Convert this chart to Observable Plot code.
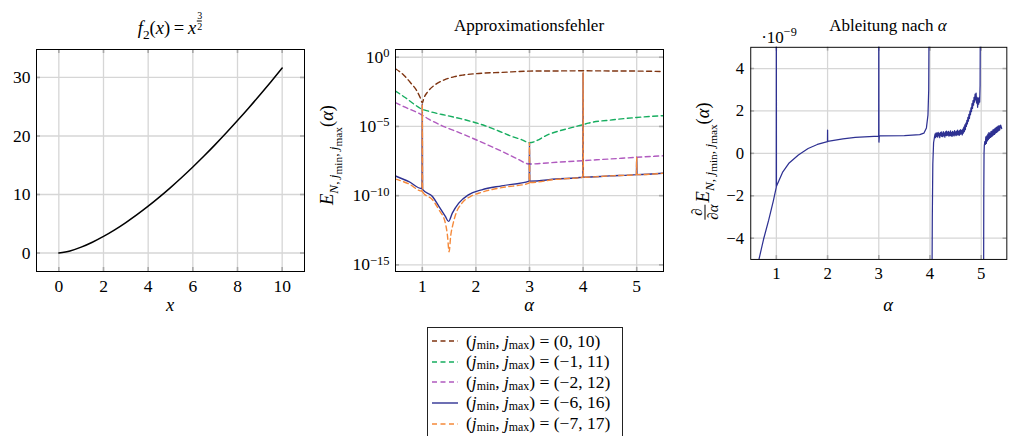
<!DOCTYPE html>
<html><head><meta charset="utf-8">
<script src="https://cdn.jsdelivr.net/npm/d3@7"></script>
<script src="https://cdn.jsdelivr.net/npm/@observablehq/plot@0.6"></script>
<style>
html,body{margin:0;padding:0;background:#fff;overflow:hidden;}
#c{position:relative;width:1014px;height:436px;overflow:hidden;font-family:'Liberation Serif','DejaVu Serif',serif;color:#000;}
.pl{position:absolute;top:0;}
.lbl{position:absolute;transform:translate(-50%,-50%);white-space:nowrap;font-size:17px;line-height:1;}
.big{font-size:18.5px;}
.rot{transform:translate(-50%,-50%) rotate(-90deg);}
sub,sup{font-size:72%;line-height:0;}
sub sub{font-size:85%;}
.frac{display:inline-block;vertical-align:middle;text-align:center;font-size:15px;line-height:1.0;margin-right:2px;}
.frac span{display:block;}
.frac .num{border-bottom:0.9px solid #000;padding:0 1px;}
.sfrac{display:inline-block;vertical-align:0.5em;font-size:10px;line-height:0.95;text-align:center;margin-left:1px;}
.sfrac span{display:block;}
.sfrac .num{border-bottom:0.6px solid #000;}
#legend{position:absolute;left:427px;top:327px;width:196px;height:118px;border:1px solid #222;background:#fff;box-sizing:border-box;padding-top:3px;}
.row{display:flex;align-items:center;height:20.6px;line-height:1;font-size:17.5px;white-space:nowrap;}
.row sub{font-size:68%;vertical-align:-0.2em;}
.row svg{margin-left:4px;margin-right:8px;flex:none;}
</style></head>
<body>
<div id="c">
  <div id="p1" class="pl" style="left:0px"></div>
  <div id="p2" class="pl" style="left:330px"></div>
  <div id="p3" class="pl" style="left:670px"></div>

  <div class="lbl big" style="left:170px;top:24px"><i>f</i><sub>2</sub>(<i>x</i>)&#8201;=&#8201;<i>x</i><span class="sfrac"><span class="num">3</span><span>2</span></span></div>
  <div class="lbl" style="left:529px;top:25px">Approximationsfehler</div>
  <div class="lbl" style="left:888px;top:25px">Ableitung nach <i>α</i></div>

  <div class="lbl big" style="left:170px;top:305px"><i>x</i></div>
  <div class="lbl big" style="left:529px;top:305px"><i>α</i></div>
  <div class="lbl big" style="left:888px;top:305px"><i>α</i></div>

  <div class="lbl big rot" style="left:328px;top:155px"><i>E</i><sub><i>N</i>, <i>j</i><sub>min</sub>, <i>j</i><sub>max</sub></sub>(<i>α</i>)</div>
  <div class="lbl big rot" style="left:705px;top:161px"><span class="frac"><span class="num"><i>∂</i></span><span><i>∂α</i></span></span><i>E</i><sub><i>N</i>, <i>j</i><sub>min</sub>, <i>j</i><sub>max</sub></sub>(<i>α</i>)</div>
  <div class="lbl" style="left:779px;top:37px">·10<sup>−9</sup></div>

  <div id="legend"></div>
</div>
<script>
// ---------- data ----------
// Panel 1: f2(x) = x^(3/2)
const f2X = [0,0.5,1,1.5,2,2.5,3,3.5,4,4.5,5,5.5,6,6.5,7,7.5,8,8.5,9,9.5,10];
const f2Y = [0,0.35,1,1.84,2.83,3.95,5.2,6.55,8,9.55,11.18,12.9,14.7,16.57,18.52,20.54,22.63,24.78,27,29.28,31.62];
const f2XTicks = [0,2,4,6,8,10];
const f2YTicks = [0,10,20,30];

// Panel 2: approximation error, pairs [alpha, log10(E)]
const errJ0_10 = [[0.5,-0.83],[0.66,-1.31],[0.78,-1.84],[0.9,-2.44],[0.97,-3.0],[1.0,-3.3],[1.03,-2.95],[1.1,-2.5],[1.25,-1.96],[1.4,-1.65],[1.6,-1.4],[1.75,-1.29],[2.05,-1.17],[2.5,-1.09],[3.0,-1.0],[3.5,-0.99],[4.0,-0.98],[4.5,-0.99],[5.0,-1.0],[5.5,-1.03]];
const errJm1_11 = [[0.5,-2.44],[0.68,-2.91],[0.85,-3.4],[0.97,-3.71],[1.12,-3.9],[1.49,-4.24],[1.83,-4.55],[2.17,-4.95],[2.5,-5.45],[2.67,-5.72],[2.85,-5.95],[3.0,-6.17],[3.37,-5.55],[3.8,-5.07],[4.0,-4.87],[4.1,-4.76],[4.56,-4.52],[5.0,-4.35],[5.5,-4.22]];
const errJm2_12 = [[0.5,-3.28],[0.69,-3.63],[0.97,-4.12],[1.12,-4.47],[1.43,-5.05],[1.6,-5.31],[1.93,-5.84],[2.2,-6.3],[2.5,-6.83],[2.75,-7.3],[3.0,-7.71],[3.5,-7.59],[4.0,-7.47],[4.5,-7.35],[5.0,-7.23],[5.5,-7.12]];
const errJm6_16 = [[0.5,-8.58],[0.75,-8.99],[0.995,-9.5],[1.0,-3.4],[1.005,-9.55],[1.19,-10.06],[1.31,-10.78],[1.43,-11.5],[1.49,-11.86],[1.56,-11.26],[1.68,-10.54],[1.86,-9.94],[2.11,-9.58],[2.48,-9.29],[2.995,-8.95],[3.0,-6.17],[3.005,-8.95],[3.5,-8.8],[3.995,-8.67],[4.0,-1.1],[4.005,-8.67],[4.5,-8.57],[4.995,-8.48],[5.0,-7.23],[5.005,-8.48],[5.5,-8.38]];
const errJm7_17 = [[0.5,-8.81],[0.75,-9.15],[0.995,-9.68],[1.0,-3.4],[1.005,-9.72],[1.19,-10.3],[1.31,-11.02],[1.43,-11.98],[1.47,-12.9],[1.5,-14.05],[1.53,-12.9],[1.57,-12.1],[1.62,-11.38],[1.74,-10.54],[1.9,-10.06],[2.11,-9.75],[2.48,-9.42],[2.995,-9.1],[3.0,-6.17],[3.005,-9.05],[3.5,-8.82],[3.995,-8.67],[4.0,-1.1],[4.005,-8.67],[4.5,-8.57],[4.995,-8.48],[5.0,-7.23],[5.005,-8.48],[5.5,-8.38]];
const errSeries = [errJ0_10, errJm1_11, errJm2_12, errJm6_16, errJm7_17];
const errLabels = ["(0, 10)", "(−1, 11)", "(−2, 12)", "(−6, 16)", "(−7, 17)"];
const errXTicks = [1,2,3,4,5];
const errYTicks = [1e0,1e-5,1e-10,1e-15];

// Panel 3: derivative, pairs [alpha, value in 1e-9]; null = break
const derivPts = [[0.62,-5.6],[0.66,-5.0],[0.75,-4.05],[0.85,-3.15],[0.94,-2.25],[0.998,-1.6],[1.0,8],[1.002,-1.55],[1.12,-0.9],[1.25,-0.45],[1.43,-0.08],[1.62,0.23],[1.8,0.42],[1.998,0.55],[2.0,1.1],[2.002,0.56],[2.3,0.68],[2.54,0.75],[2.998,0.81],[3.0,8],[3.003,0.53],[3.01,0.82],[3.5,0.84],[3.8,0.88],[3.88,0.95],[3.93,1.2],[3.96,1.8],[3.975,3],[3.985,8],null,
  [4.035,-8],[4.045,-3],[4.055,-0.5],[4.07,0.5],[4.09,0.8],[4.1,0.92],[4.11,0.74],[4.12,0.97],[4.13,0.8],[4.14,0.95],[4.15,0.76],[4.16,0.99],[4.17,0.83],[4.18,0.93],[4.19,0.74],[4.2,0.98],[4.21,0.84],[4.22,1.01],[4.23,0.8],[4.24,0.95],[4.25,0.79],[4.26,1.02],[4.27,0.84],[4.28,0.96],[4.29,0.76],[4.3,1.01],[4.31,0.85],[4.32,1.05],[4.33,0.83],[4.34,1.0],[4.35,0.86],[4.36,1.04],[4.37,0.81],[4.38,0.99],[4.39,0.85],[4.4,1.06],[4.41,0.83],[4.42,0.98],[4.43,0.8],[4.44,1.04],[4.45,0.86],[4.46,1.0],[4.47,0.82],[4.48,1.07],[4.49,0.87],[4.5,1.01],[4.51,0.84],[4.52,1.05],[4.53,0.87],[4.54,1.1],[4.55,0.88],[4.56,1.04],[4.57,0.85],[4.58,1.08],[4.59,0.9],[4.6,1.12],[4.61,0.92],[4.62,1.07],[4.63,0.87],[4.64,1.14],[4.65,0.95],[4.66,1.24],[4.67,1.02],[4.68,1.34],[4.69,1.12],[4.7,1.42],[4.71,1.27],[4.72,1.56],[4.73,1.39],[4.74,1.7],[4.75,1.52],[4.76,1.84],[4.77,1.65],[4.78,1.99],[4.79,1.82],[4.8,2.14],[4.81,1.97],[4.82,2.34],[4.83,2.12],[4.84,2.49],[4.85,2.27],[4.86,2.64],[4.87,2.42],[4.88,2.79],[4.89,2.52],[4.9,2.84],[4.91,2.37],[4.92,2.64],[4.93,2.17],[4.94,2.59],[4.95,2.32],[4.96,2.64],[4.97,2.42],[4.978,3.2],[4.985,8],null,
  [5.045,-8],[5.05,-2],[5.055,0.0],[5.06,0.35],[5.07,0.55],[5.08,0.42],[5.09,0.78],[5.1,0.47],[5.11,0.83],[5.12,0.59],[5.13,0.91],[5.14,0.65],[5.15,0.98],[5.16,0.71],[5.17,0.95],[5.18,0.75],[5.19,1.03],[5.2,0.79],[5.21,1.05],[5.22,0.82],[5.23,1.11],[5.24,0.87],[5.25,1.13],[5.26,0.89],[5.27,1.18],[5.28,0.95],[5.29,1.21],[5.3,0.99],[5.31,1.25],[5.32,1.02],[5.33,1.28],[5.34,1.07],[5.35,1.31],[5.36,1.09],[5.38,1.33],[5.4,1.17]];
const derivXTicks = [1,2,3,4,5];
const derivYTicks = [-4,-2,0,2,4];

// ---------- styles ----------
const serif = "'Liberation Serif', 'DejaVu Serif', serif";
const gridColor = "#d6d6d6";
const tickColor = "#a8a8a8";
const errColors = ["#7f3512", "#16ad5f", "#b05abf", "#2e3192", "#f5893a"];
const errDashed = [true, true, true, false, true];
const minus = d => d < 0 ? "−" + (-d) : String(d);
const plain = d => String(d);

function frameMarks(xt, yt, fw, fh) {
  return [
    Plot.gridX({ticks: xt, stroke: gridColor, strokeOpacity: 1, strokeWidth: 1.3}),
    Plot.gridY({ticks: yt, stroke: gridColor, strokeOpacity: 1, strokeWidth: 1.3}),
    Plot.tickX(xt, {x: d => d, stroke: tickColor, strokeWidth: 1.6, insetBottom: fh - 4}),
    Plot.tickX(xt, {x: d => d, stroke: tickColor, strokeWidth: 1.6, insetTop: fh - 4}),
    Plot.tickY(yt, {y: d => d, stroke: tickColor, strokeWidth: 1.6, insetRight: fw - 4}),
    Plot.tickY(yt, {y: d => d, stroke: tickColor, strokeWidth: 1.6, insetLeft: fw - 4})
  ];
}
const baseStyle = {fontFamily: serif, fontSize: "17.5px", background: "transparent", color: "#000", overflow: "visible"};

// Panel 1
const f2Rows = f2X.map((x, i) => ({x, y: f2Y[i]}));
const p1 = Plot.plot({
  width: 320, height: 320, marginLeft: 36, marginRight: 16, marginTop: 49, marginBottom: 49,
  style: baseStyle,
  x: {domain: [-1, 11]},
  y: {domain: [-3.16, 34.78]},
  marks: [
    ...frameMarks(f2XTicks, f2YTicks, 268, 222),
    Plot.axisX({ticks: f2XTicks, tickSize: 0, tickPadding: 8, label: null, fontSize: 17.5, tickFormat: plain}),
    Plot.axisY({ticks: f2YTicks, tickSize: 0, tickPadding: 6, label: null, fontSize: 17.5, tickFormat: plain}),
    Plot.line(f2Rows, {x: "x", y: "y", stroke: "#000", strokeWidth: 1.5, curve: "monotone-x"}),
    Plot.frame({stroke: "#000", strokeWidth: 1})
  ]
});
document.getElementById("p1").appendChild(p1);

// Panel 2
const errRows = errSeries.flatMap((s, k) => s.map(([a, lg]) => ({k, a, e: Math.pow(10, lg)})));
const p2 = Plot.plot({
  width: 340, height: 320, marginLeft: 65, marginRight: 7, marginTop: 49, marginBottom: 49,
  style: baseStyle,
  x: {domain: [0.5, 5.5]},
  y: {type: "log", domain: [Math.pow(10, -15.48), Math.pow(10, 0.56)]},
  marks: [
    ...frameMarks(errXTicks, errYTicks, 268, 222),
    Plot.axisX({ticks: errXTicks, tickSize: 0, tickPadding: 8, label: null, fontSize: 17.5, tickFormat: plain}),
    Plot.axisY({ticks: errYTicks, tickSize: 0, tickPadding: 6, label: null, fontSize: 17.5,
      tickFormat: d => "10^" + minus(Math.round(Math.log10(d)))}),
    ...errSeries.map((s, k) => Plot.line(errRows.filter(r => r.k === k), {
      x: "a", y: "e", stroke: errColors[k], strokeWidth: 1.4,
      strokeDasharray: errDashed[k] ? "5,3.5" : null, curve: "monotone-x", clip: true
    })),
    Plot.frame({stroke: "#000", strokeWidth: 1})
  ]
});
document.getElementById("p2").appendChild(p2);
// superscripts for log tick labels
p2.querySelectorAll("text").forEach(t => {
  const m = /^10\^(.+)$/.exec(t.textContent);
  if (!m) return;
  t.textContent = "10";
  const sp = document.createElementNS("http://www.w3.org/2000/svg", "tspan");
  sp.setAttribute("dy", "-0.45em");
  sp.setAttribute("font-size", "12.5px");
  sp.textContent = m[1];
  t.appendChild(sp);
});

// Panel 3
const derivRows = derivPts.map(p => p ? {a: p[0], v: p[1]} : {a: NaN, v: NaN});
const p3 = Plot.plot({
  width: 360, height: 320, marginLeft: 84, marginRight: 8, marginTop: 49, marginBottom: 49,
  style: baseStyle,
  x: {domain: [0.5, 5.5]},
  y: {domain: [-5, 5]},
  marks: [
    ...frameMarks(derivXTicks, derivYTicks, 268, 222),
    Plot.axisX({ticks: derivXTicks, tickSize: 0, tickPadding: 8, label: null, fontSize: 17.5, tickFormat: plain}),
    Plot.axisY({ticks: derivYTicks, tickSize: 0, tickPadding: 7, label: null, fontSize: 17.5, tickFormat: minus}),
    Plot.line(derivRows, {x: "a", y: "v", stroke: "#2e3192", strokeWidth: 1.3, curve: "linear", clip: true}),
    Plot.frame({stroke: "#000", strokeWidth: 1})
  ]
});
document.getElementById("p3").appendChild(p3);

// Legend
const legend = document.getElementById("legend");
errLabels.forEach((lab, k) => {
  const row = document.createElement("div");
  row.className = "row";
  const dash = errDashed[k] ? 'stroke-dasharray="5,3.5"' : "";
  row.innerHTML = `<svg width="26" height="10"><line x1="0" y1="5" x2="26" y2="5" stroke="${errColors[k]}" stroke-width="1.4" ${dash}/></svg>` +
    `<span>(<i>j</i><sub>min</sub>, <i>j</i><sub>max</sub>) = ${lab}</span>`;
  legend.appendChild(row);
});
</script>
</body></html>
